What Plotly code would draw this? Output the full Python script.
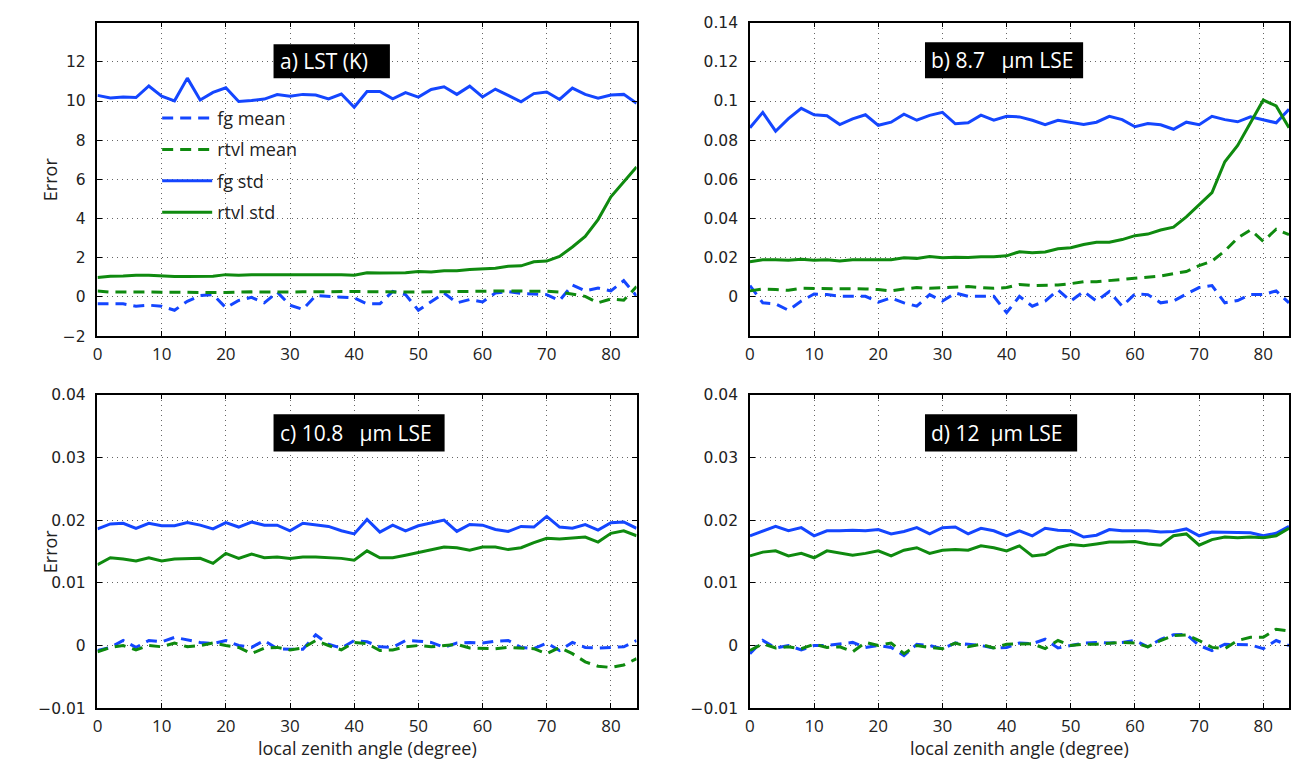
import plotly.graph_objects as go

angle = list(range(0, 86, 2))

# ---- panel a: LST (K)
a_fg_mean = [-0.35, -0.35, -0.35, -0.47, -0.42, -0.47, -0.68, -0.22, 0.07, 0.12, -0.55, -0.18, -0.02, -0.30, 0.25,
             -0.42, -0.63, 0.07, 0.03, 0.00, -0.05, -0.35, -0.35, 0.28, 0.12, -0.68, -0.22, 0.20, -0.30, -0.13,
             -0.25, 0.20, 0.28, 0.18, 0.15, 0.12, -0.18, 0.61, 0.31, 0.45, 0.31, 0.83, 0.05]
a_rtvl_mean = [0.31, 0.25, 0.25, 0.26, 0.25, 0.24, 0.23, 0.23, 0.24, 0.23, 0.23, 0.25, 0.26, 0.25, 0.24,
               0.25, 0.26, 0.27, 0.26, 0.27, 0.28, 0.27, 0.26, 0.25, 0.26, 0.25, 0.26, 0.27, 0.28, 0.29,
               0.31, 0.30, 0.31, 0.30, 0.31, 0.29, 0.25, 0.15, 0.03, -0.30, -0.10, -0.17, 0.53]
a_fg_std = [10.29, 10.16, 10.21, 10.18, 10.77, 10.25, 10.01, 11.17, 10.05, 10.44, 10.68, 9.98, 10.03, 10.10, 10.33,
            10.25, 10.34, 10.31, 10.11, 10.36, 9.68, 10.49, 10.49, 10.11, 10.43, 10.20, 10.59, 10.73, 10.34, 10.76,
            10.21, 10.61, 10.29, 9.96, 10.38, 10.46, 10.08, 10.66, 10.34, 10.15, 10.31, 10.34, 9.88]
a_rtvl_std = [0.99, 1.06, 1.07, 1.11, 1.11, 1.06, 1.04, 1.04, 1.06, 1.06, 1.14, 1.11, 1.14, 1.14, 1.14,
              1.14, 1.14, 1.15, 1.14, 1.14, 1.11, 1.24, 1.22, 1.24, 1.24, 1.30, 1.27, 1.34, 1.34, 1.40,
              1.45, 1.47, 1.57, 1.59, 1.80, 1.83, 2.07, 2.55, 3.09, 3.95, 5.11, 5.87, 6.64]

# ---- panel b: 8.7 um LSE
b_fg_mean = [0.0058, -0.0030, -0.0035, -0.0068, -0.0021, 0.0015, 0.0012, 0.0003, 0.0003, 0.0003, -0.0026, -0.0005,
             -0.0030, -0.0047, 0.0012, -0.0021, 0.0020, 0.0003, 0.0003, 0.0003, -0.0080, 0.0003, -0.0047, -0.0021,
             0.0036, -0.0021, 0.0028, -0.0021, 0.0028, -0.0047, 0.0015, 0.0012, -0.0030, -0.0021, 0.0015, 0.0048,
             0.0058, -0.0030, -0.0018, 0.0012, 0.0012, 0.0031, -0.0030]
b_rtvl_mean = [0.0031, 0.0041, 0.0038, 0.0034, 0.0044, 0.0044, 0.0041, 0.0041, 0.0044, 0.0041, 0.0038, 0.0031,
               0.0041, 0.0048, 0.0044, 0.0048, 0.0051, 0.0053, 0.0048, 0.0044, 0.0048, 0.0064, 0.0058, 0.0061,
               0.0061, 0.0068, 0.0078, 0.0078, 0.0084, 0.0091, 0.0094, 0.0101, 0.0107, 0.0119, 0.0130, 0.0160,
               0.0183, 0.0235, 0.0301, 0.0342, 0.0284, 0.0346, 0.0318]
b_fg_std = [0.0864, 0.0942, 0.0846, 0.0910, 0.0963, 0.0930, 0.0925, 0.0880, 0.0909, 0.0930, 0.0876, 0.0892,
            0.0933, 0.0902, 0.0927, 0.0942, 0.0884, 0.0889, 0.0928, 0.0902, 0.0922, 0.0919, 0.0902, 0.0880,
            0.0902, 0.0892, 0.0880, 0.0892, 0.0922, 0.0905, 0.0869, 0.0885, 0.0879, 0.0856, 0.0892, 0.0879,
            0.0922, 0.0905, 0.0894, 0.0919, 0.0905, 0.0889, 0.0958]
b_rtvl_std = [0.0180, 0.0190, 0.0190, 0.0187, 0.0193, 0.0187, 0.0190, 0.0183, 0.0190, 0.0190, 0.0193, 0.0190,
              0.0200, 0.0197, 0.0207, 0.0200, 0.0203, 0.0202, 0.0205, 0.0205, 0.0210, 0.0231, 0.0226, 0.0230,
              0.0246, 0.0251, 0.0268, 0.0279, 0.0279, 0.0293, 0.0313, 0.0321, 0.0342, 0.0356, 0.0409, 0.0470,
              0.0533, 0.0690, 0.0773, 0.0889, 0.1005, 0.0975, 0.0864]

# ---- panel c: 10.8 um LSE
c_fg_mean = [-0.0008, -0.0003, 0.0008, -0.0003, 0.0008, 0.0006, 0.0013, 0.0009, 0.0005, 0.0003, 0.0008, 0.0000,
             -0.0003, 0.0008, -0.0005, -0.0006, -0.0006, 0.0017, 0.0002, -0.0004, 0.0008, 0.0006, -0.0002, -0.0003,
             0.0008, 0.0007, 0.0005, -0.0003, 0.0004, 0.0005, 0.0004, 0.0007, 0.0008, -0.0003, -0.0005, 0.0004,
             -0.0008, 0.0005, -0.0003, -0.0004, -0.0003, -0.0002, 0.0008]
c_rtvl_mean = [-0.0010, -0.0003, 0.0000, -0.0007, 0.0000, -0.0002, 0.0004, -0.0002, 0.0000, 0.0004, 0.0000, -0.0003,
               -0.0013, -0.0004, -0.0003, -0.0007, -0.0004, 0.0008, 0.0000, -0.0007, 0.0005, 0.0003, -0.0008, -0.0007,
               -0.0002, 0.0000, -0.0002, 0.0000, 0.0002, -0.0004, -0.0004, -0.0005, -0.0003, -0.0004, -0.0005, -0.0013,
               -0.0003, -0.0013, -0.0026, -0.0033, -0.0035, -0.0031, -0.0021]
c_fg_std = [0.0186, 0.0194, 0.0195, 0.0187, 0.0195, 0.0191, 0.0191, 0.0196, 0.0192, 0.0186, 0.0196, 0.0189,
            0.0197, 0.0192, 0.0192, 0.0183, 0.0195, 0.0193, 0.0190, 0.0183, 0.0178, 0.0201, 0.0181, 0.0192,
            0.0183, 0.0191, 0.0195, 0.0200, 0.0182, 0.0193, 0.0192, 0.0185, 0.0182, 0.0190, 0.0189, 0.0206,
            0.0189, 0.0187, 0.0193, 0.0184, 0.0196, 0.0197, 0.0187]
c_rtvl_std = [0.0129, 0.0140, 0.0138, 0.0135, 0.0140, 0.0135, 0.0138, 0.0139, 0.0139, 0.0131, 0.0147, 0.0139,
              0.0146, 0.0140, 0.0141, 0.0139, 0.0141, 0.0141, 0.0140, 0.0139, 0.0136, 0.0151, 0.0140, 0.0140,
              0.0144, 0.0148, 0.0152, 0.0157, 0.0156, 0.0152, 0.0157, 0.0157, 0.0153, 0.0156, 0.0164, 0.0171,
              0.0170, 0.0171, 0.0173, 0.0165, 0.0179, 0.0183, 0.0175]

# ---- panel d: 12 um LSE
d_fg_mean = [-0.0013, 0.0008, -0.0004, 0.0000, -0.0007, 0.0000, 0.0000, 0.0003, 0.0005, -0.0003, 0.0000, -0.0003,
             -0.0016, 0.0002, 0.0000, -0.0005, 0.0004, 0.0002, 0.0000, -0.0004, -0.0003, 0.0004, 0.0003, 0.0010,
             -0.0004, 0.0000, 0.0004, 0.0005, 0.0004, 0.0005, 0.0008, -0.0002, 0.0010, 0.0017, 0.0018, 0.0000,
             -0.0008, 0.0002, 0.0002, 0.0001, -0.0005, 0.0008, 0.0000]
d_rtvl_mean = [-0.0008, 0.0003, -0.0004, -0.0002, -0.0005, 0.0002, -0.0003, -0.0002, -0.0010, 0.0005, 0.0000, 0.0004,
               -0.0013, 0.0000, -0.0003, -0.0005, 0.0004, -0.0002, 0.0002, -0.0004, 0.0002, 0.0003, 0.0003, -0.0005,
               0.0008, 0.0000, 0.0002, 0.0002, 0.0003, 0.0005, 0.0004, -0.0002, 0.0008, 0.0016, 0.0017, 0.0008,
               -0.0003, -0.0005, 0.0008, 0.0013, 0.0013, 0.0026, 0.0023]
d_fg_std = [0.0175, 0.0182, 0.0190, 0.0183, 0.0188, 0.0175, 0.0183, 0.0183, 0.0184, 0.0183, 0.0185, 0.0178,
            0.0182, 0.0188, 0.0178, 0.0188, 0.0189, 0.0178, 0.0187, 0.0183, 0.0175, 0.0183, 0.0175, 0.0187,
            0.0184, 0.0183, 0.0173, 0.0176, 0.0185, 0.0183, 0.0183, 0.0183, 0.0181, 0.0182, 0.0186, 0.0175,
            0.0181, 0.0181, 0.0181, 0.0180, 0.0175, 0.0179, 0.0190]
d_rtvl_std = [0.0143, 0.0149, 0.0151, 0.0143, 0.0147, 0.0140, 0.0151, 0.0147, 0.0144, 0.0147, 0.0151, 0.0143,
              0.0152, 0.0156, 0.0147, 0.0152, 0.0153, 0.0152, 0.0159, 0.0156, 0.0151, 0.0159, 0.0143, 0.0145,
              0.0156, 0.0161, 0.0159, 0.0162, 0.0165, 0.0165, 0.0166, 0.0162, 0.0160, 0.0175, 0.0178, 0.0160,
              0.0169, 0.0173, 0.0172, 0.0173, 0.0172, 0.0175, 0.0187]

series_names = ["fg mean", "rtvl mean", "fg std", "rtvl std"]
NB = "\u00a0"
panel_titles = ["a) LST (K)",
                "b) 8.7" + NB * 3 + "\u03bcm LSE",
                "c) 10.8" + NB * 3 + "\u03bcm LSE",
                "d) 12" + NB * 2 + "\u03bcm LSE"]
x_ticks = [0, 10, 20, 30, 40, 50, 60, 70, 80]
y_ticks = [
    ([-2, 0, 2, 4, 6, 8, 10, 12], ["\u22122", "0", "2", "4", "6", "8", "10", "12"]),
    ([0, 0.02, 0.04, 0.06, 0.08, 0.1, 0.12, 0.14], ["0", "0.02", "0.04", "0.06", "0.08", "0.1", "0.12", "0.14"]),
    ([-0.01, 0, 0.01, 0.02, 0.03, 0.04], ["\u22120.01", "0", "0.01", "0.02", "0.03", "0.04"]),
    ([-0.01, 0, 0.01, 0.02, 0.03, 0.04], ["\u22120.01", "0", "0.01", "0.02", "0.03", "0.04"]),
]
y_ranges = [[-2, 14], [-0.02, 0.14], [-0.01, 0.04], [-0.01, 0.04]]
panels = [
    (a_fg_mean, a_rtvl_mean, a_fg_std, a_rtvl_std),
    (b_fg_mean, b_rtvl_mean, b_fg_std, b_rtvl_std),
    (c_fg_mean, c_rtvl_mean, c_fg_std, c_rtvl_std),
    (d_fg_mean, d_rtvl_mean, d_fg_std, d_rtvl_std),
]

W, H = 1291, 768
BLUE = "#1446ff"
GREEN = "#0f8a0f"
colors = [BLUE, GREEN, BLUE, GREEN]
dashes = ["11px,7px", "11px,7px", "solid", "solid"]

# pixel boxes of the four plot areas (left, top, right, bottom)
boxes = [(93, 14, 635, 335), (749, 14, 1291, 335), (93, 395, 635, 716), (749, 395, 1291, 716)]

fig = go.Figure()
layout = dict(
    width=W, height=H, margin=dict(l=0, r=0, t=0, b=0, pad=0),
    paper_bgcolor="white", plot_bgcolor="white",
    showlegend=True,
    legend=dict(x=153 / W, y=1 - 93 / H, xanchor="left", yanchor="top",
                bgcolor="rgba(0,0,0,0)", borderwidth=0,
                font=dict(family="Open Sans", size=18, color="#222"),
                traceorder="grouped", tracegroupgap=5, itemwidth=50),
)
annotations = []
shapes = []

for i, (data, (tv, tt), yr, box) in enumerate(zip(panels, y_ticks, y_ranges, boxes)):
    n = i + 1
    xa = "x" if n == 1 else f"x{n}"
    ya = "y" if n == 1 else f"y{n}"
    l, t, r, b = box
    for k, (vals, name) in enumerate(zip(data, series_names)):
        fig.add_trace(go.Scatter(
            x=angle, y=vals, mode="lines", name=name,
            line=dict(color=colors[k], width=3, dash=dashes[k]),
            xaxis=xa, yaxis=ya, showlegend=(i == 0), legendgroup=name,
            hoverinfo="skip"))
    axis_common = dict(showline=True, linecolor="black", linewidth=1.5, mirror="ticks",
                       ticks="inside", ticklen=5, tickcolor="black", tickwidth=1,
                       showgrid=True, gridcolor="#666", griddash="1px,4px", gridwidth=1,
                       zeroline=False)
    layout["xaxis" if n == 1 else f"xaxis{n}"] = dict(
        domain=[l / W, r / W], range=[0, 84], anchor=ya,
        tickvals=x_ticks, ticktext=[str(v) for v in x_ticks],
        tickfont=dict(family="Open Sans", size=17, color="#222"), ticklabelstandoff=2,
        **axis_common)
    layout["yaxis" if n == 1 else f"yaxis{n}"] = dict(
        domain=[1 - b / H, 1 - t / H], range=yr, anchor=xa,
        tickvals=tv, ticktext=tt,
        tickfont=dict(family="DejaVu Sans", size=15.5, color="#222"), ticklabelstandoff=7,
        **axis_common)

# title boxes (black background, white text)
title_boxes = [(270, 36, 387, 71), (925, 34, 1084, 71), (270, 415, 442, 453), (925, 415, 1078, 453)]
for txt, (x0, y0, x1, y1) in zip(panel_titles, title_boxes):
    shapes.append(dict(type="rect", xref="paper", yref="paper",
                       x0=x0 / W, x1=x1 / W, y0=1 - y1 / H, y1=1 - y0 / H,
                       fillcolor="black", line=dict(width=0), layer="above"))
    annotations.append(dict(text=txt, xref="paper", yref="paper",
                            x=(x0 + 4) / W, y=1 - (y0 + y1) / 2 / H, xanchor="left", yanchor="middle",
                            showarrow=False, font=dict(family="Open Sans", size=21, color="white")))

# y axis labels
for (l, t, r, b) in [boxes[0], boxes[2]]:
    annotations.append(dict(text="Error", xref="paper", yref="paper",
                            x=46 / W, y=1 - (t + b) / 2 / H, xanchor="center", yanchor="middle",
                            textangle=-90, showarrow=False,
                            font=dict(family="Open Sans", size=18, color="#222")))
# x axis labels
for (l, t, r, b) in [boxes[2], boxes[3]]:
    annotations.append(dict(text="local zenith angle (degree)", xref="paper", yref="paper",
                            x=(l + r) / 2 / W, y=1 - 757 / H, xanchor="center", yanchor="middle",
                            showarrow=False,
                            font=dict(family="Open Sans", size=18, color="#222")))

layout["annotations"] = annotations
layout["shapes"] = shapes
fig.update_layout(**layout)
fig.write_html("out.html")
